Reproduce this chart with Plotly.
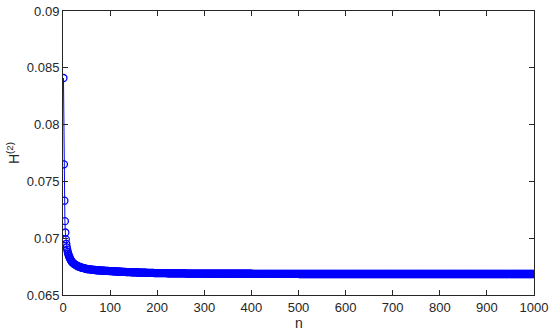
import plotly.graph_objects as go

# Data
n_head = [1, 2, 3, 4, 5, 6, 7, 8, 9, 10, 11, 12, 13, 14, 15, 16, 17, 18, 19, 20,
          22, 24, 26, 28, 30, 32, 34, 36, 38, 40, 42, 44, 46, 48, 50]
h_head = [0.0841, 0.0765, 0.0733, 0.0715, 0.0705, 0.0699, 0.0695, 0.0692, 0.0690, 0.0688,
          0.06865, 0.06850, 0.06840, 0.06830, 0.06820, 0.06812, 0.06805, 0.06798, 0.06792, 0.06786,
          0.06779, 0.06773, 0.06767, 0.06762, 0.06757, 0.06753, 0.06749, 0.06746, 0.06743, 0.06740,
          0.06738, 0.06736, 0.06734, 0.06731, 0.06729]

n_tail = list(range(52, 1001, 2))
h_tail = [
    # 52 - 100
    0.06728, 0.06727, 0.06726, 0.06725, 0.06724, 0.06723, 0.06722, 0.06721, 0.06720, 0.06719,
    0.06718, 0.06718, 0.06717, 0.06716, 0.06716, 0.06715, 0.06715, 0.06714, 0.06714, 0.06713,
    0.06713, 0.06712, 0.06712, 0.06711, 0.06711,
    # 102 - 150
    0.06710, 0.06710, 0.06709, 0.06709, 0.06708, 0.06708, 0.06707, 0.06707, 0.06706, 0.06706,
    0.06705, 0.06705, 0.06704, 0.06704, 0.06703, 0.06703, 0.06702, 0.06702, 0.06702, 0.06701,
    0.06701, 0.06701, 0.06700, 0.06700, 0.06700,
    # 152 - 200
    0.06699, 0.06699, 0.06699, 0.06698, 0.06698, 0.06698, 0.06697, 0.06697, 0.06697, 0.06697,
    0.06696, 0.06696, 0.06696, 0.06695, 0.06695, 0.06695, 0.06695, 0.06694, 0.06694, 0.06694,
    0.06694, 0.06693, 0.06693, 0.06693, 0.06693,
    # 202 - 300
    0.06692, 0.06692, 0.06692, 0.06692, 0.06692, 0.06692, 0.06692, 0.06692, 0.06692, 0.06692,
    0.06691, 0.06691, 0.06691, 0.06691, 0.06691, 0.06691, 0.06691, 0.06691, 0.06691, 0.06691,
    0.06690, 0.06690, 0.06690, 0.06690, 0.06690, 0.06690, 0.06690, 0.06690, 0.06690, 0.06690,
    0.06689, 0.06689, 0.06689, 0.06689, 0.06689, 0.06689, 0.06689, 0.06689, 0.06689, 0.06689,
    0.06688, 0.06688, 0.06688, 0.06688, 0.06688, 0.06688, 0.06688, 0.06688, 0.06688, 0.06688,
    # 302 - 500
    0.06687, 0.06687, 0.06687, 0.06687, 0.06687, 0.06687, 0.06687, 0.06687, 0.06687, 0.06687,
    0.06687, 0.06687, 0.06687, 0.06687, 0.06687, 0.06687, 0.06687, 0.06687, 0.06687, 0.06687,
    0.06687, 0.06687, 0.06687, 0.06687, 0.06687, 0.06687, 0.06687, 0.06687, 0.06687, 0.06687,
    0.06687, 0.06687, 0.06687, 0.06687, 0.06687, 0.06687, 0.06687, 0.06687, 0.06687, 0.06687,
    0.06687, 0.06687, 0.06687, 0.06687, 0.06687, 0.06687, 0.06687, 0.06687, 0.06687, 0.06687,
    0.06686, 0.06686, 0.06686, 0.06686, 0.06686, 0.06686, 0.06686, 0.06686, 0.06686, 0.06686,
    0.06686, 0.06686, 0.06686, 0.06686, 0.06686, 0.06686, 0.06686, 0.06686, 0.06686, 0.06686,
    0.06686, 0.06686, 0.06686, 0.06686, 0.06686, 0.06686, 0.06686, 0.06686, 0.06686, 0.06686,
    0.06686, 0.06686, 0.06686, 0.06686, 0.06686, 0.06686, 0.06686, 0.06686, 0.06686, 0.06686,
    0.06686, 0.06686, 0.06686, 0.06686, 0.06686, 0.06686, 0.06686, 0.06686, 0.06686, 0.06686,
    # 502 - 1000
    0.06685, 0.06685, 0.06685, 0.06685, 0.06685, 0.06685, 0.06685, 0.06685, 0.06685, 0.06685,
    0.06685, 0.06685, 0.06685, 0.06685, 0.06685, 0.06685, 0.06685, 0.06685, 0.06685, 0.06685,
    0.06685, 0.06685, 0.06685, 0.06685, 0.06685, 0.06685, 0.06685, 0.06685, 0.06685, 0.06685,
    0.06685, 0.06685, 0.06685, 0.06685, 0.06685, 0.06685, 0.06685, 0.06685, 0.06685, 0.06685,
    0.06685, 0.06685, 0.06685, 0.06685, 0.06685, 0.06685, 0.06685, 0.06685, 0.06685, 0.06685,
    0.06685, 0.06685, 0.06685, 0.06685, 0.06685, 0.06685, 0.06685, 0.06685, 0.06685, 0.06685,
    0.06685, 0.06685, 0.06685, 0.06685, 0.06685, 0.06685, 0.06685, 0.06685, 0.06685, 0.06685,
    0.06685, 0.06685, 0.06685, 0.06685, 0.06685, 0.06685, 0.06685, 0.06685, 0.06685, 0.06685,
    0.06685, 0.06685, 0.06685, 0.06685, 0.06685, 0.06685, 0.06685, 0.06685, 0.06685, 0.06685,
    0.06685, 0.06685, 0.06685, 0.06685, 0.06685, 0.06685, 0.06685, 0.06685, 0.06685, 0.06685,
    0.06685, 0.06685, 0.06685, 0.06685, 0.06685, 0.06685, 0.06685, 0.06685, 0.06685, 0.06685,
    0.06685, 0.06685, 0.06685, 0.06685, 0.06685, 0.06685, 0.06685, 0.06685, 0.06685, 0.06685,
    0.06685, 0.06685, 0.06685, 0.06685, 0.06685, 0.06685, 0.06685, 0.06685, 0.06685, 0.06685,
    0.06685, 0.06685, 0.06685, 0.06685, 0.06685, 0.06685, 0.06685, 0.06685, 0.06685, 0.06685,
    0.06685, 0.06685, 0.06685, 0.06685, 0.06685, 0.06685, 0.06685, 0.06685, 0.06685, 0.06685,
    0.06685, 0.06685, 0.06685, 0.06685, 0.06685, 0.06685, 0.06685, 0.06685, 0.06685, 0.06685,
    0.06685, 0.06685, 0.06685, 0.06685, 0.06685, 0.06685, 0.06685, 0.06685, 0.06685, 0.06685,
    0.06685, 0.06685, 0.06685, 0.06685, 0.06685, 0.06685, 0.06685, 0.06685, 0.06685, 0.06685,
    0.06685, 0.06685, 0.06685, 0.06685, 0.06685, 0.06685, 0.06685, 0.06685, 0.06685, 0.06685,
    0.06685, 0.06685, 0.06685, 0.06685, 0.06685, 0.06685, 0.06685, 0.06685, 0.06685, 0.06685,
    0.06685, 0.06685, 0.06685, 0.06685, 0.06685, 0.06685, 0.06685, 0.06685, 0.06685, 0.06685,
    0.06685, 0.06685, 0.06685, 0.06685, 0.06685, 0.06685, 0.06685, 0.06685, 0.06685, 0.06685,
    0.06685, 0.06685, 0.06685, 0.06685, 0.06685, 0.06685, 0.06685, 0.06685, 0.06685, 0.06685,
    0.06685, 0.06685, 0.06685, 0.06685, 0.06685, 0.06685, 0.06685, 0.06685, 0.06685, 0.06685,
    0.06685, 0.06685, 0.06685, 0.06685, 0.06685, 0.06685, 0.06685, 0.06685, 0.06685, 0.06685,
]

n_vals = n_head + n_tail[:len(h_tail)]
h_vals = h_head + h_tail

x_ticks = [0, 100, 200, 300, 400, 500, 600, 700, 800, 900, 1000]
y_ticks = [0.065, 0.07, 0.075, 0.08, 0.085, 0.09]
y_tick_text = ["0.065", "0.07", "0.075", "0.08", "0.085", "0.09"]
x_title = "n"
y_title = "H<sup>(2)</sup>"

FONT = "Liberation Sans, Arial, sans-serif"
INK = "#262626"

fig = go.Figure()
fig.add_trace(go.Scatter(
    x=n_vals, y=h_vals, mode="lines+markers",
    line=dict(color="#0000ff", width=1),
    marker=dict(symbol="circle-open", size=7, color="#0000ff", line=dict(width=1.3, color="#0000ff")),
    showlegend=False,
))

axis_common = dict(
    showline=True, linecolor=INK, linewidth=1, mirror="ticks",
    ticks="inside", ticklen=5, tickcolor=INK,
    showgrid=False, zeroline=False, automargin=False,
    tickfont=dict(family=FONT, size=13, color=INK),
)

fig.update_xaxes(range=[0, 1000], tickvals=x_ticks, **axis_common)
fig.update_yaxes(range=[0.065, 0.09], tickvals=y_ticks, ticktext=y_tick_text, **axis_common)

fig.add_annotation(text=x_title, xref="paper", yref="paper", x=0.5, y=-0.062,
                   xanchor="center", yanchor="top", showarrow=False,
                   font=dict(family=FONT, size=14, color=INK))
fig.add_annotation(text=y_title, xref="paper", yref="paper", x=-0.106, y=0.5,
                   xanchor="center", yanchor="middle", textangle=-90, showarrow=False,
                   font=dict(family=FONT, size=14, color=INK))

fig.update_layout(
    width=550, height=330,
    margin=dict(l=63, r=16, t=11, b=35, autoexpand=False),
    plot_bgcolor="white", paper_bgcolor="white",
)

fig.write_html("out.html",
               config={"displayModeBar": False},
               post_script="document.body.style.margin='0';document.body.style.overflow='hidden';")
